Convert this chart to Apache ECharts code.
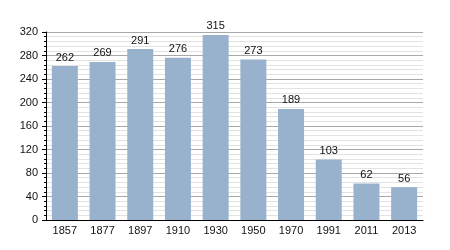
<!DOCTYPE html>
<html><head><meta charset="utf-8">
<script src="https://cdn.jsdelivr.net/npm/echarts@6/dist/echarts.min.js"></script>
<style>html,body{margin:0;padding:0;background:#fff}#c{width:450px;height:250px}</style>
</head><body><div id="c"></div>
<script>
const categories = ['1857','1877','1897','1910','1930','1950','1970','1991','2011','2013'];
const values = [262,269,291,276,315,273,189,103,62,56];
const yTicks = [0,40,80,120,160,200,240,280,320];

const chart = echarts.init(document.getElementById('c'), null, {renderer:'canvas'});
chart.setOption({
  animation:false,
  backgroundColor:'#fff',
  grid:{left:46,right:27,top:32,bottom:30,containLabel:false},
  xAxis:{
    type:'category', data:categories,
    axisLine:{lineStyle:{color:'#000',width:1}},
    axisTick:{show:false},
    axisLabel:{color:'#111',fontFamily:'Liberation Sans, Arial, sans-serif',fontSize:11,margin:5}
  },
  yAxis:{
    type:'value', min:yTicks[0], max:yTicks[yTicks.length-1], interval:40,
    axisLine:{show:true,lineStyle:{color:'#000',width:1}},
    axisTick:{show:true,length:4,lineStyle:{color:'#000'}},
    minorTick:{show:true,splitNumber:5,length:2,lineStyle:{color:'#000'}},
    splitLine:{lineStyle:{color:'#a8a8a8',width:1}},
    minorSplitLine:{show:true,lineStyle:{color:'#e2e2e2',width:1}},
    axisLabel:{color:'#111',fontFamily:'Liberation Sans, Arial, sans-serif',fontSize:11,margin:8}
  },
  series:[{
    type:'bar', data:values, barWidth:26,
    itemStyle:{color:'#98b2cd'},
    label:{show:true,position:'top',distance:3,color:'#111',fontFamily:'Liberation Sans, Arial, sans-serif',fontSize:11}
  }]
});
</script></body></html>
